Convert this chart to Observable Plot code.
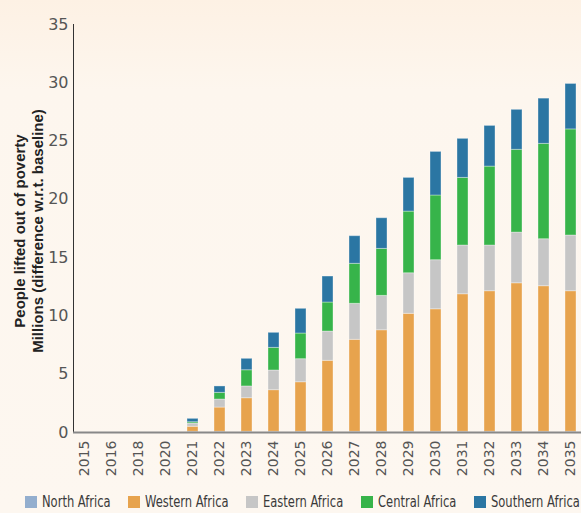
<!DOCTYPE html>
<html>
<head>
<meta charset="utf-8">
<script src="https://cdn.jsdelivr.net/npm/d3@7"></script>
<script src="https://cdn.jsdelivr.net/npm/@observablehq/plot@0.6"></script>
<style>
  html, body { margin: 0; padding: 0; }
  #wrap {
    position: relative; width: 581px; height: 513px; overflow: hidden;
    background: linear-gradient(#fdf1e4 0px, #fdf6ee 90px, #fdf7f0 513px);
    font-family: "DejaVu Sans", sans-serif;
  }
  #wrap svg { position: absolute; left: 0; top: 0; background: transparent; }
  #legend { position: absolute; left: 0; top: 492px; width: 581px; height: 21px; }
  .item { position: absolute; top: 0; height: 20px; white-space: nowrap; }
  .sw { position: absolute; left: 0; top: 4px; width: 12px; height: 12px; }
  .lbl { position: absolute; left: 17px; top: 0; font-size: 16px; line-height: 20px; color: #3a3a3a;
         font-stretch: condensed; transform: scaleX(0.8); transform-origin: left center; white-space: nowrap; }
</style>
</head>
<body>
<div id="wrap"><div id="legend"></div></div>
<script>
const years = ["2015","2016","2018","2020","2021","2022","2023","2024","2025","2026","2027","2028","2029","2030","2031","2032","2033","2034","2035"];
const seriesNames = ["North Africa","Western Africa","Eastern Africa","Central Africa","Southern Africa"];
const seriesColors = ["#93aece","#e7a34d","#c6c6c6","#37b44a","#2b76a3"];
const northAfrica   = [0,0,0,0,0.06,0.06,0.06,0.06,0.06,0.06,0.06,0.06,0.06,0.06,0.06,0.06,0.06,0.06,0.06];
const westernAfrica = [0,0,0,0,0.43,2.08,2.88,3.57,4.25,6.09,7.89,8.71,10.12,10.51,11.8,12.06,12.74,12.49,12.06];
const easternAfrica = [0,0,0,0,0.28,0.69,1.01,1.69,1.98,2.51,3.09,2.95,3.48,4.21,4.18,3.92,4.35,4.03,4.78];
const centralAfrica = [0,0,0,0,0.11,0.57,1.39,1.94,2.2,2.49,3.43,4.03,5.29,5.55,5.8,6.77,7.1,8.18,9.1];
const southernAfrica= [0,0,0,0,0.29,0.55,0.98,1.29,2.12,2.23,2.37,2.63,2.89,3.74,3.35,3.49,3.43,3.88,3.9];
const yTicks = [0,5,10,15,20,25,30,35];

const seriesValues = [northAfrica, westernAfrica, easternAfrica, centralAfrica, southernAfrica];
const rows = [];
seriesNames.forEach((s, i) => years.forEach((y, j) => rows.push({year: y, series: s, value: seriesValues[i][j]})));

const font = "'DejaVu Sans', sans-serif";
const chart = Plot.plot({
  width: 581,
  height: 488,
  marginLeft: 73,
  marginRight: 0,
  marginTop: 24,
  marginBottom: 56,
  style: {background: "transparent", fontFamily: font},
  x: {domain: years, paddingInner: 0.6, paddingOuter: 0.11, label: null},
  y: {domain: [0, 35], label: null},
  color: {domain: seriesNames, range: seriesColors},
  marks: [
    Plot.barY(rows, {x: "year", y: "value", fill: "series", stroke: "#ffffff", strokeOpacity: 0.35, strokeWidth: 1}),
    Plot.frame({anchor: "left", stroke: "#333"}),
    Plot.ruleY([0], {stroke: "#888", strokeWidth: 2}),
    Plot.axisY({ticks: yTicks, tickSize: 0, tickPadding: 5, fontSize: 16, fill: "#555", label: null}),
    Plot.axisX({tickSize: 0, tickRotate: -90, tickPadding: 8, fontSize: 14, fill: "#555", label: null})
  ]
});
const wrap = document.getElementById("wrap");
wrap.insertBefore(chart, wrap.firstChild);

// rotated y-axis title (two lines)
const svg = d3.select(chart);
const g = svg.append("g").attr("transform", "translate(20,231) rotate(-90)")
  .attr("font-family", "'Liberation Sans', Arial, sans-serif").attr("font-weight", "bold")
  .attr("font-size", 15).attr("fill", "#222").attr("text-anchor", "middle");
g.append("text").attr("x", 0).attr("y", 5).text("People lifted out of poverty");
g.append("text").attr("x", 0).attr("y", 23).text("Millions (difference w.r.t. baseline)");

// legend
const legendX = [25, 128, 246, 361, 474];
const legend = document.getElementById("legend");
seriesNames.forEach((s, i) => {
  const it = document.createElement("div");
  it.className = "item";
  it.style.left = legendX[i] + "px";
  it.innerHTML = `<span class="sw" style="background:${seriesColors[i]}"></span><span class="lbl">${s}</span>`;
  legend.appendChild(it);
});
</script>
</body>
</html>
